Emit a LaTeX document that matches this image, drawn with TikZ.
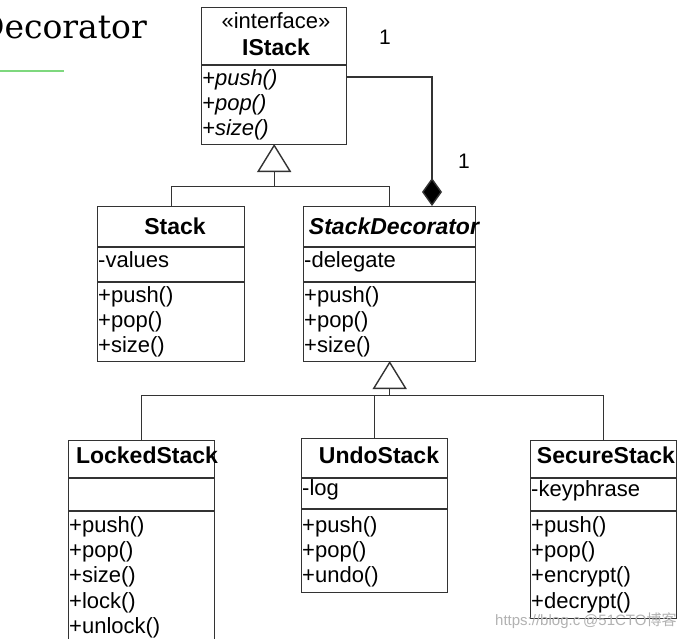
\documentclass[tikz,border=0pt]{standalone}
\usepackage{fontspec}
\newfontfamily\arial{Liberation Sans}
\newfontfamily\titlefont{DejaVu Serif}
\newfontfamily\cjk{Noto Sans CJK SC}
\usetikzlibrary{arrows.meta,calc}
\definecolor{linec}{HTML}{333333}
\definecolor{greenline}{HTML}{7ED87E}
\begin{document}
\begin{tikzpicture}[x=1pt,y=-1pt,
  umlbox/.style={draw=linec,line width=1.4pt,inner sep=0pt,anchor=north west,fill=white},
  sep/.style={draw=linec,line width=1.4pt},
  conn/.style={draw=linec,line width=1.4pt},
  ttl/.style={font=\arial\fontsize{23}{25}\selectfont\bfseries,inner sep=0pt,anchor=base},
  itm/.style={font=\arial\fontsize{22}{25}\selectfont,inner sep=0pt,anchor=base west},
  iitm/.style={itm,font=\arial\fontsize{22}{25}\selectfont\itshape},
  mult/.style={font=\arial\fontsize{21}{24}\selectfont,inner sep=0pt,anchor=base},
  wmark/.style={font=\arial\fontsize{15}{16}\selectfont,text=black!30,inner sep=0pt,anchor=base west},
]
\useasboundingbox (0,0) rectangle (692,638);
\fill[white] (0,0) rectangle (692,638);

% title
\node[font=\titlefont\fontsize{33}{38}\selectfont,inner sep=0pt,anchor=base east] (title) at (147,38) {Decorator};
\draw[greenline,line width=2.5pt] (0,71) -- (64,71);

% boxes
\node[umlbox,minimum width=145pt,minimum height=137pt] (istack) at (201,7) {};
\node[umlbox,minimum width=147pt,minimum height=155pt] (stack) at (97,206) {};
\node[umlbox,minimum width=172pt,minimum height=155pt] (deco) at (303,206) {};
\node[umlbox,minimum width=146pt,minimum height=210pt] (locked) at (68,440) {};
\node[umlbox,minimum width=146pt,minimum height=154pt] (undo) at (301,438) {};
\node[umlbox,minimum width=146pt,minimum height=178pt] (secure) at (530,440) {};

% dividers
\draw[sep] (istack.west |- 0,65) -- (istack.east |- 0,65);
\draw[sep] (stack.west |- 0,247) -- (stack.east |- 0,247);
\draw[sep] (stack.west |- 0,282) -- (stack.east |- 0,282);
\draw[sep] (deco.west |- 0,247) -- (deco.east |- 0,247);
\draw[sep] (deco.west |- 0,282) -- (deco.east |- 0,282);
\draw[sep] (locked.west |- 0,478) -- (locked.east |- 0,478);
\draw[sep] (locked.west |- 0,511) -- (locked.east |- 0,511);
\draw[sep] (undo.west |- 0,478) -- (undo.east |- 0,478);
\draw[sep] (undo.west |- 0,509) -- (undo.east |- 0,509);
\draw[sep] (secure.west |- 0,478) -- (secure.east |- 0,478);
\draw[sep] (secure.west |- 0,511) -- (secure.east |- 0,511);

% IStack
\node[itm,anchor=base] (i0) at (276,28) {«interface»};
\node[ttl] (i1) at (276,55) {IStack};
\node[iitm] (i2) at (202,85) {+push()};
\node[iitm] (i3) at (202,110) {+pop()};
\node[iitm] (i4) at (202,135) {+size()};

% Stack
\node[ttl] (s0) at (175,234) {Stack};
\node[itm] (s1) at (98,267) {-values};
\node[itm] (s2) at (98,302) {+push()};
\node[itm] (s3) at (98,327) {+pop()};
\node[itm] (s4) at (98,352) {+size()};

% StackDecorator
\node[ttl,font=\arial\fontsize{23}{25}\selectfont\bfseries\itshape] (d0) at (394,234) {StackDecorator};
\node[itm] (d1) at (304,267) {-delegate};
\node[itm] (d2) at (304,302) {+push()};
\node[itm] (d3) at (304,327) {+pop()};
\node[itm] (d4) at (304,352) {+size()};

% LockedStack
\node[ttl] (l0) at (147,463) {LockedStack};
\node[itm] (l1) at (69,532) {+push()};
\node[itm] (l2) at (69,557) {+pop()};
\node[itm] (l3) at (69,582) {+size()};
\node[itm] (l4) at (69,608) {+lock()};
\node[itm] (l5) at (69,633) {+unlock()};

% UndoStack
\node[ttl] (u0) at (379,463) {UndoStack};
\node[itm] (u1) at (302,495) {-log};
\node[itm] (u2) at (302,532) {+push()};
\node[itm] (u3) at (302,557) {+pop()};
\node[itm] (u4) at (302,582) {+undo()};

% SecureStack
\node[ttl] (c0) at (606,463) {SecureStack};
\node[itm] (c1) at (531,496) {-keyphrase};
\node[itm] (c2) at (531,532) {+push()};
\node[itm] (c3) at (531,557) {+pop()};
\node[itm] (c4) at (531,582) {+encrypt()};
\node[itm] (c5) at (531,608) {+decrypt()};

% generalization 1
\coordinate (j1) at ($(istack.south)+(0,41)$);
\draw[conn] (stack.north) |- (j1) -| (deco.north);
\draw[conn] ($(istack.south)+(0,26)$) -- (j1);
\draw[conn,fill=white] (istack.south) -- ++(-16,26) -- ++(32,0) -- cycle;

% composition
\coordinate (csrc) at ($(istack.north east)+(0,70)$);
\coordinate (ctgt) at ($(deco.north west)+(129,0)$);
\draw[conn,-{Diamond[length=28pt,width=20pt,fill=black]}] (csrc) -| (ctgt);
\node[mult] (m1) at (385,44) {1};
\node[mult] (m2) at (464,168) {1};

% generalization 2
\coordinate (j2) at ($(deco.south)+(0,33)$);
\draw[conn] (locked.north) |- (j2) -| (secure.north);
\draw[conn] (undo.north) -- (undo.north |- j2);
\draw[conn] ($(deco.south)+(0,26)$) -- (j2);
\draw[conn,fill=white] (deco.south) -- ++(-16,26) -- ++(32,0) -- cycle;

% watermark
\node[wmark] (w1) at (495,625) {https://blog.c};
\node[wmark] (w2) at (583,625) {@51CTO{\cjk 博客}};
\end{tikzpicture}
\end{document}
